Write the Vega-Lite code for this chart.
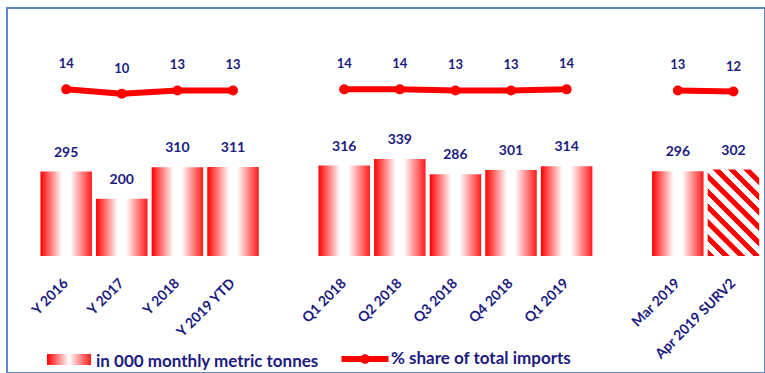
{
  "$schema": "https://vega.github.io/schema/vega-lite/v6.json",
  "autosize": "none",
  "width": 758,
  "height": 365,
  "padding": {"left": 7, "top": 8, "right": 0, "bottom": 0},
  "background": "white",
  "config": {
    "view": {"stroke": "#5b87cc", "strokeWidth": 2},
    "font": "Lato"
  },
  "data": {
    "values": [
      {"cat": "Y 2016", "v": 295, "s": 14, "grp": "annual"},
      {"cat": "Y 2017", "v": 200, "s": 10, "grp": "annual"},
      {"cat": "Y 2018", "v": 310, "s": 13, "grp": "annual"},
      {"cat": "Y 2019 YTD", "v": 311, "s": 13, "grp": "annual"},
      {"cat": "Q1 2018", "v": 316, "s": 14, "grp": "quarterly"},
      {"cat": "Q2 2018", "v": 339, "s": 14, "grp": "quarterly"},
      {"cat": "Q3 2018", "v": 286, "s": 13, "grp": "quarterly"},
      {"cat": "Q4 2018", "v": 301, "s": 13, "grp": "quarterly"},
      {"cat": "Q1 2019", "v": 314, "s": 14, "grp": "quarterly"},
      {"cat": "Mar 2019", "v": 296, "s": 13, "grp": "monthly"},
      {"cat": "Apr 2019 SURV2", "v": 302, "s": 12, "grp": "monthly"}
    ]
  },
  "encoding": {
    "x": {
      "field": "cat",
      "type": "nominal",
      "sort": null,
      "scale": {
        "domain": ["Y 2016", "Y 2017", "Y 2018", "Y 2019 YTD", " ", "Q1 2018", "Q2 2018", "Q3 2018", "Q4 2018", "Q1 2019", "  ", "Mar 2019", "Apr 2019 SURV2"],
        "paddingInner": 0.074,
        "paddingOuter": 0.353,
        "align": 0.852
      },
      "axis": {
        "title": null,
        "labelAngle": -45,
        "labelAlign": "right",
        "labelBaseline": "middle",
        "ticks": false,
        "domain": false,
        "grid": false,
        "offset": -117,
        "labelPadding": 25,
        "labelFont": "Lato",
        "labelFontWeight": "bold",
        "labelFontSize": 14,
        "labelColor": "#1b1b7f",
        "labelOverlap": false
      }
    }
  },
  "layer": [
    {
      "encoding": {
        "y": {
          "field": "v",
          "type": "quantitative",
          "scale": {"domain": [-409, 867], "nice": false, "zero": false},
          "axis": null
        }
      },
      "layer": [
        {
          "transform": [{"filter": "datum.cat !== 'Apr 2019 SURV2'"}],
          "mark": {
            "type": "bar",
            "fill": {
              "gradient": "linear",
              "x1": 0, "y1": 0.5, "x2": 1, "y2": 0.5,
              "stops": [
                {"offset": 0, "color": "#ff0000"},
                {"offset": 0.42, "color": "#ffffff"},
                {"offset": 0.58, "color": "#ffffff"},
                {"offset": 1, "color": "#ff1a1a"}
              ]
            }
          }
        },
        {
          "transform": [{"filter": "datum.cat === 'Apr 2019 SURV2'"}],
          "mark": {
            "type": "bar",
            "strokeWidth": 0,
            "strokeOpacity": 0,
            "fill": {
              "gradient": "linear",
              "x1": 0, "y1": 1, "x2": 0.699, "y2": -0.178,
              "stops": [
                {"offset": 0, "color": "#ff0000"}, {"offset": 0.047, "color": "#ff0000"},
                {"offset": 0.052, "color": "#ffffff"}, {"offset": 0.106, "color": "#ffffff"},
                {"offset": 0.111, "color": "#ff0000"}, {"offset": 0.158, "color": "#ff0000"},
                {"offset": 0.163, "color": "#ffffff"}, {"offset": 0.217, "color": "#ffffff"},
                {"offset": 0.222, "color": "#ff0000"}, {"offset": 0.269, "color": "#ff0000"},
                {"offset": 0.274, "color": "#ffffff"}, {"offset": 0.328, "color": "#ffffff"},
                {"offset": 0.333, "color": "#ff0000"}, {"offset": 0.38, "color": "#ff0000"},
                {"offset": 0.385, "color": "#ffffff"}, {"offset": 0.439, "color": "#ffffff"},
                {"offset": 0.444, "color": "#ff0000"}, {"offset": 0.491, "color": "#ff0000"},
                {"offset": 0.496, "color": "#ffffff"}, {"offset": 0.55, "color": "#ffffff"},
                {"offset": 0.556, "color": "#ff0000"}, {"offset": 0.603, "color": "#ff0000"},
                {"offset": 0.608, "color": "#ffffff"}, {"offset": 0.661, "color": "#ffffff"},
                {"offset": 0.667, "color": "#ff0000"}, {"offset": 0.714, "color": "#ff0000"},
                {"offset": 0.719, "color": "#ffffff"}, {"offset": 0.772, "color": "#ffffff"},
                {"offset": 0.778, "color": "#ff0000"}, {"offset": 0.825, "color": "#ff0000"},
                {"offset": 0.83, "color": "#ffffff"}, {"offset": 0.883, "color": "#ffffff"},
                {"offset": 0.889, "color": "#ff0000"}, {"offset": 0.936, "color": "#ff0000"},
                {"offset": 0.941, "color": "#ffffff"}, {"offset": 0.994, "color": "#ffffff"},
                {"offset": 1, "color": "#ff0000"}
              ]
            }
          },
          "encoding": {
            "stroke": {
              "datum": 0.5,
              "type": "quantitative",
              "scale": {"domain": [0, 0.5, 1], "range": ["#ff0000", "#ffffff", "#ff1a1a"], "interpolate": "rgb", "zero": false, "nice": false},
              "legend": {
                "orient": "none",
                "legendX": 40,
                "legendY": 346,
                "direction": "horizontal",
                "padding": 0,
                "gradientLength": 44,
                "gradientThickness": 11,
                "gradientStrokeWidth": 0,
                "title": "in 000 monthly metric tonnes",
                "titleOrient": "right",
                "titleAnchor": "start",
                "titleBaseline": "top",
                "titlePadding": 5,
                "titleFont": "Lato",
                "titleFontWeight": "bold",
                "titleFontSize": 17,
                "titleColor": "#1b1b7f",
                "titleLimit": 400,
                "labelOpacity": 0,
                "labelFontSize": 1,
                "labelOffset": 0,
                "labelOverlap": false
              }
            }
          }
        },
        {
          "mark": {
            "type": "text",
            "baseline": "middle",
            "align": "center",
            "dy": -19,
            "font": "Lato",
            "fontWeight": "bold",
            "fontSize": 14,
            "color": "#1b1b7f"
          },
          "encoding": {"text": {"field": "v", "type": "quantitative"}}
        }
      ]
    },
    {
      "encoding": {
        "y": {
          "field": "s",
          "type": "quantitative",
          "scale": {"domain": [-244, 88], "nice": false, "zero": false},
          "axis": null
        }
      },
      "layer": [
        {
          "mark": {"type": "line", "strokeWidth": 6, "strokeCap": "round", "strokeJoin": "round"},
          "encoding": {
            "detail": {"field": "grp", "type": "nominal"},
            "color": {
              "datum": "% share of total imports",
              "type": "nominal",
              "scale": {"domain": ["% share of total imports"], "range": ["#ff0000"]},
              "legend": {
                "orient": "none",
                "legendX": 334,
                "legendY": 327,
                "direction": "horizontal",
                "title": null,
                "padding": 0,
                "labelFont": "Lato",
                "labelFontWeight": "bold",
                "labelFontSize": 17,
                "labelColor": "#1b1b7f",
                "labelLimit": 400,
                "labelOffset": 2,
                "symbolSize": 2304,
                "encode": {
                  "symbols": {
                    "update": {
                      "shape": {"value": "M-0.98,-0.125H0.98V0.125H-0.98Z M-0.2,0A0.2,0.2 0 1 1 0.2,0A0.2,0.2 0 1 1 -0.2,0Z"},
                      "size": {"value": 2304},
                      "fill": {"value": "#ff0000"},
                      "fillOpacity": {"value": 1},
                      "opacity": {"value": 1},
                      "stroke": {"value": "transparent"},
                      "strokeWidth": {"value": 0}
                    }
                  }
                }
              }
            }
          }
        },
        {
          "mark": {"type": "point", "filled": true, "size": 100, "opacity": 1},
          "encoding": {
            "color": {"datum": "% share of total imports", "type": "nominal"}
          }
        },
        {
          "mark": {
            "type": "text",
            "baseline": "middle",
            "align": "center",
            "dy": -25,
            "font": "Lato",
            "fontWeight": "bold",
            "fontSize": 13,
            "color": "#1b1b7f"
          },
          "encoding": {"text": {"field": "s", "type": "quantitative"}}
        }
      ]
    }
  ],
  "resolve": {"scale": {"y": "independent"}}
}
